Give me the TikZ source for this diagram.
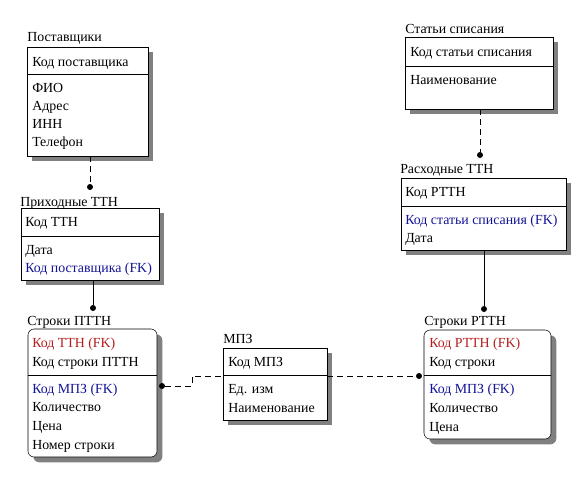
\documentclass[tikz,border=0pt]{standalone}
\usepackage{fontspec}
\setmainfont{Liberation Serif}
\usetikzlibrary{shadows}

\definecolor{fkred}{RGB}{180,30,30}
\definecolor{fkblue}{RGB}{20,20,150}
\definecolor{shadowgray}{RGB}{128,128,128}

\tikzset{
  ent/.style args={#1/#2}{draw, fill=white, anchor=north west, inner sep=0pt, outer sep=0pt,
    minimum width=#1*0.75pt, minimum height=#2*0.75pt,
    drop shadow={shadow xshift=4pt, shadow yshift=-4pt, fill=shadowgray, opacity=1}},
  attr/.style={anchor=base west, inner sep=0pt},
  dot/.style={circle, fill, inner sep=0pt, minimum size=4.5pt},
  idrel/.style={line width=0.6pt},
  rel/.style={line width=0.6pt, dash pattern=on 4.5pt off 3pt},
}

\begin{document}
\begin{tikzpicture}[x=0.75pt,y=-0.75pt,font=\fontsize{10.4}{12}\selectfont]
\useasboundingbox (0,0) rectangle (588,479);

% Поставщики
\node[attr] (post-t) at (27,41) {Поставщики};
\node[ent=121/109] (post) at (27,47) {};
\draw (27,74) -- (148,74);
\node[attr] (post-k) at (32,66) {Код поставщика};
\foreach \t [count=\i from 0] in {ФИО,Адрес,ИНН,Телефон}
  \node[attr] (post-a\i) at (32,92+18.3*\i) {\t};

% Статьи списания
\node[attr] (stat-t) at (405,33) {Статьи списания};
\node[ent=148/72] (stat) at (405,37) {};
\draw (405,66) -- (553,66);
\node[attr] (stat-k) at (410,56) {Код статьи списания};
\node[attr] (stat-a0) at (410,84) {Наименование};

% Приходные ТТН
\node[attr] (prix-t) at (20,206) {Приходные ТТН};
\node[ent=138/72] (prix) at (21,208) {};
\draw (21,236) -- (159,236);
\node[attr] (prix-k) at (25,226) {Код ТТН};
\node[attr] (prix-a0) at (25,254) {Дата};
\node[attr, text=fkblue] (prix-a1) at (25,272) {Код поставщика (FK)};

% Расходные ТТН
\node[attr] (rasx-t) at (400,173) {Расходные ТТН};
\node[ent=165/72] (rasx) at (401,178) {};
\draw (401,206) -- (566,206);
\node[attr] (rasx-k) at (405,196) {Код РТТН};
\node[attr, text=fkblue] (rasx-a0) at (405,224) {Код статьи списания (FK)};
\node[attr] (rasx-a1) at (405,242) {Дата};

% Строки ПТТН
\node[attr] (sptt-t) at (27,325) {Строки ПТТН};
\node[ent=129/128, rounded corners=4.5pt] (sptt) at (28,329) {};
\draw (28,375) -- (157,375);
\node[attr, text=fkred] (sptt-k0) at (32,347) {Код ТТН (FK)};
\node[attr] (sptt-k1) at (32,366) {Код строки ПТТН};
\node[attr, text=fkblue] (sptt-a0) at (32,393) {Код МПЗ (FK)};
\foreach \t [count=\i] in {Количество,Цена,Номер строки}
  \node[attr] (sptt-a\i) at (32,393+18.7*\i) {\t};

% МПЗ
\node[attr] (mpz-t) at (223,343) {МПЗ};
\node[ent=104/72] (mpz) at (223,348) {};
\draw (223,375) -- (327,375);
\node[attr] (mpz-k) at (228,366) {Код МПЗ};
\node[attr] (mpz-a0) at (228,393) {Ед. изм};
\node[attr] (mpz-a1) at (228,412) {Наименование};

% Строки РТТН
\node[attr] (srtt-t) at (424,325) {Строки РТТН};
\node[ent=127/109, rounded corners=4.5pt] (srtt) at (424,330) {};
\draw (424,375) -- (551,375);
\node[attr, text=fkred] (srtt-k0) at (429,347) {Код РТТН (FK)};
\node[attr] (srtt-k1) at (429,366) {Код строки};
\node[attr, text=fkblue] (srtt-a0) at (429,393) {Код МПЗ (FK)};
\node[attr] (srtt-a1) at (429,412) {Количество};
\node[attr] (srtt-a2) at (429,431) {Цена};

% связи
\node[dot] (d1) at (90,187) {};
\node[dot] (d2) at (480,155) {};
\node[dot] (d3) at (93,308) {};
\node[dot] (d4) at (484,309) {};
\node[dot] (d5) at (162,386) {};
\node[dot] (d6) at (419,376) {};
\draw[rel] (post.south -| d1) -- (d1);
\draw[rel] (stat.south -| d2) -- (d2);
\draw[idrel] (prix.south -| d3) -- (d3);
\draw[idrel] (rasx.south -| d4) -- (d4);
\draw[rel] (d5) -- (192,386) |- (mpz.west |- 0,376);
\draw[rel] (mpz.east |- d6) -- (d6);
\end{tikzpicture}
\end{document}
